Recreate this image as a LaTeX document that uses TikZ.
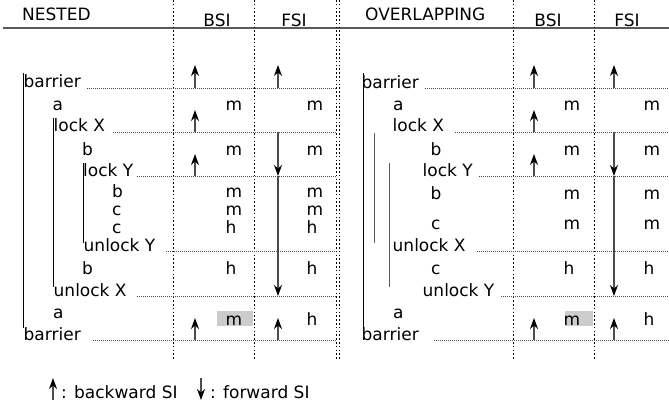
\documentclass[tikz,border=0pt]{standalone}
\usepackage{fontspec}
\setmainfont{DejaVu Sans}
\usetikzlibrary{arrows.meta}
\begin{document}
\begin{tikzpicture}[x=1pt,y=-1pt,
  txt/.style={anchor=base west,inner sep=0pt,font=\fontsize{17}{20}\selectfont},
  txtc/.style={anchor=base,inner sep=0pt,font=\fontsize{17}{20}\selectfont},
  vdot/.style={line width=0.9pt,dash pattern=on 1.6pt off 2.2pt},
  hdot/.style={line width=0.8pt,gray!60!black,dash pattern=on 1pt off 1pt},
  brk/.style={line width=1pt,black},
  gbrk/.style={line width=1pt,gray!70!black},
  siarr/.style={line width=1.3pt,gray!60!black,-{Stealth[length=11pt,width=8pt,inset=3.5pt,black]}},
  hit/.style={fill=gray!40,draw=none},
]
\useasboundingbox (0,0) rectangle (669,408);
% header line
\draw[line width=1.3pt,gray!70!black] (3,28) -- (669,28);
% vertical dotted columns
\foreach \xx in {173,254,336,339,513,594} \draw[vdot] (\xx,0) -- (\xx,360);
% highlighted cells
\fill[hit] (217,311) rectangle (253,326);
\fill[hit] (565,311) rectangle (593,326);
% headers
\node[txt] (hN) at (22,20) {NESTED};
\node[txtc] (hB1) at (217,26) {BSI};
\node[txtc] (hF1) at (294,26) {FSI};
\node[txt] (hO) at (365,20) {OVERLAPPING};
\node[txtc] (hB2) at (548,26) {BSI};
\node[txtc] (hF2) at (627,26) {FSI};
% ---------- NESTED ----------
\node[txt] (nbT) at (23.5,87) {barrier};
\node[txt] (na1) at (52.5,110) {a};
\node[txt] (nlX) at (53.5,131) {lock X};
\node[txt] (nb1) at (82,155) {b};
\node[txt] (nlY) at (83,176) {lock Y};
\node[txt] (nb2) at (112,197) {b};
\node[txt] (nc1) at (112,215) {c};
\node[txt] (nc2) at (112,233) {c};
\node[txt] (nuY) at (83.5,251) {unlock Y};
\node[txt] (nb3) at (82,274) {b};
\node[txt] (nuX) at (53.5,296) {unlock X};
\node[txt] (na2) at (53,318) {a};
\node[txt] (nbB) at (23.5,340) {barrier};
% values
\foreach \yy/\vb/\vf [count=\i] in {110/m/m,155/m/m,197/m/m,215/m/m,233/h/h,274/h/h,325/m/h}{
  \node[txt] (nvb\i) at (225.5,\yy) {\vb};
  \node[txt] (nvf\i) at (306.5,\yy) {\vf};
}
% brackets
\draw[brk] (23,73) -- (23,328);
\draw[brk] (53,118) -- (53,287);
\draw[brk] (83,163) -- (83,243);
% dotted rows
\draw[hdot] (87,88) -- (336,88);
\draw[hdot] (113,132) -- (336,132);
\draw[hdot] (137,176) -- (336,176);
\draw[hdot] (166,251) -- (336,251);
\draw[hdot] (137,296) -- (336,296);
\draw[hdot] (93,340) -- (336,340);
% arrows
\draw[siarr] (195,88) -- (195,65);
\draw[siarr] (278,88) -- (278,65);
\draw[siarr] (195,132) -- (195,110);
\draw[siarr] (195,176) -- (195,154);
\draw[siarr] (278,132) -- (278,176);
\draw[siarr] (278,176) -- (278,296);
\draw[siarr] (195,340) -- (195,318);
\draw[siarr] (278,340) -- (278,318);
% ---------- OVERLAPPING ----------
\node[txt] (obT) at (361.5,88) {barrier};
\node[txt] (oa1) at (393,110) {a};
\node[txt] (olX) at (392.5,131) {lock X};
\node[txt] (ob1) at (430.5,155) {b};
\node[txt] (olY) at (422.5,176) {lock Y};
\node[txt] (ob2) at (430.5,199) {b};
\node[txt] (oc1) at (431,229) {c};
\node[txt] (ouX) at (392.5,251) {unlock X};
\node[txt] (oc2) at (431,274) {c};
\node[txt] (ouY) at (422.5,296) {unlock Y};
\node[txt] (oa2) at (393,318) {a};
\node[txt] (obB) at (361.5,340) {barrier};
\foreach \yy/\vb/\vf [count=\i] in {110/m/m,155/m/m,199/m/m,229/m/m,274/h/h,325/m/h}{
  \node[txt] (ovb\i) at (563.5,\yy) {\vb};
  \node[txt] (ovf\i) at (643.5,\yy) {\vf};
}
\draw[brk] (363,73) -- (363,328);
\draw[gbrk] (374,133) -- (374,243);
\draw[gbrk] (389,163) -- (389,287);
\draw[hdot] (425,88) -- (669,88);
\draw[hdot] (455,132) -- (669,132);
\draw[hdot] (479,176) -- (669,176);
\draw[hdot] (477,251) -- (669,251);
\draw[hdot] (501,296) -- (669,296);
\draw[hdot] (434,340) -- (669,340);
\draw[siarr] (534,88) -- (534,65);
\draw[siarr] (614,88) -- (614,65);
\draw[siarr] (534,132) -- (534,110);
\draw[siarr] (534,176) -- (534,154);
\draw[siarr] (614,132) -- (614,176);
\draw[siarr] (614,176) -- (614,296);
\draw[siarr] (534,340) -- (534,318);
\draw[siarr] (614,340) -- (614,318);
% legend
\coordinate (lu1) at (53,400); \coordinate (lu2) at (53,378);
\draw[siarr] (lu1) -- (lu2);
\node[txt] (lbk) at (61,398) {: backward SI};
\coordinate (ld1) at (201,378); \coordinate (ld2) at (201,400);
\draw[siarr] (ld1) -- (ld2);
\node[txt] (lfw) at (210,398) {: forward SI};
\end{tikzpicture}
\end{document}
